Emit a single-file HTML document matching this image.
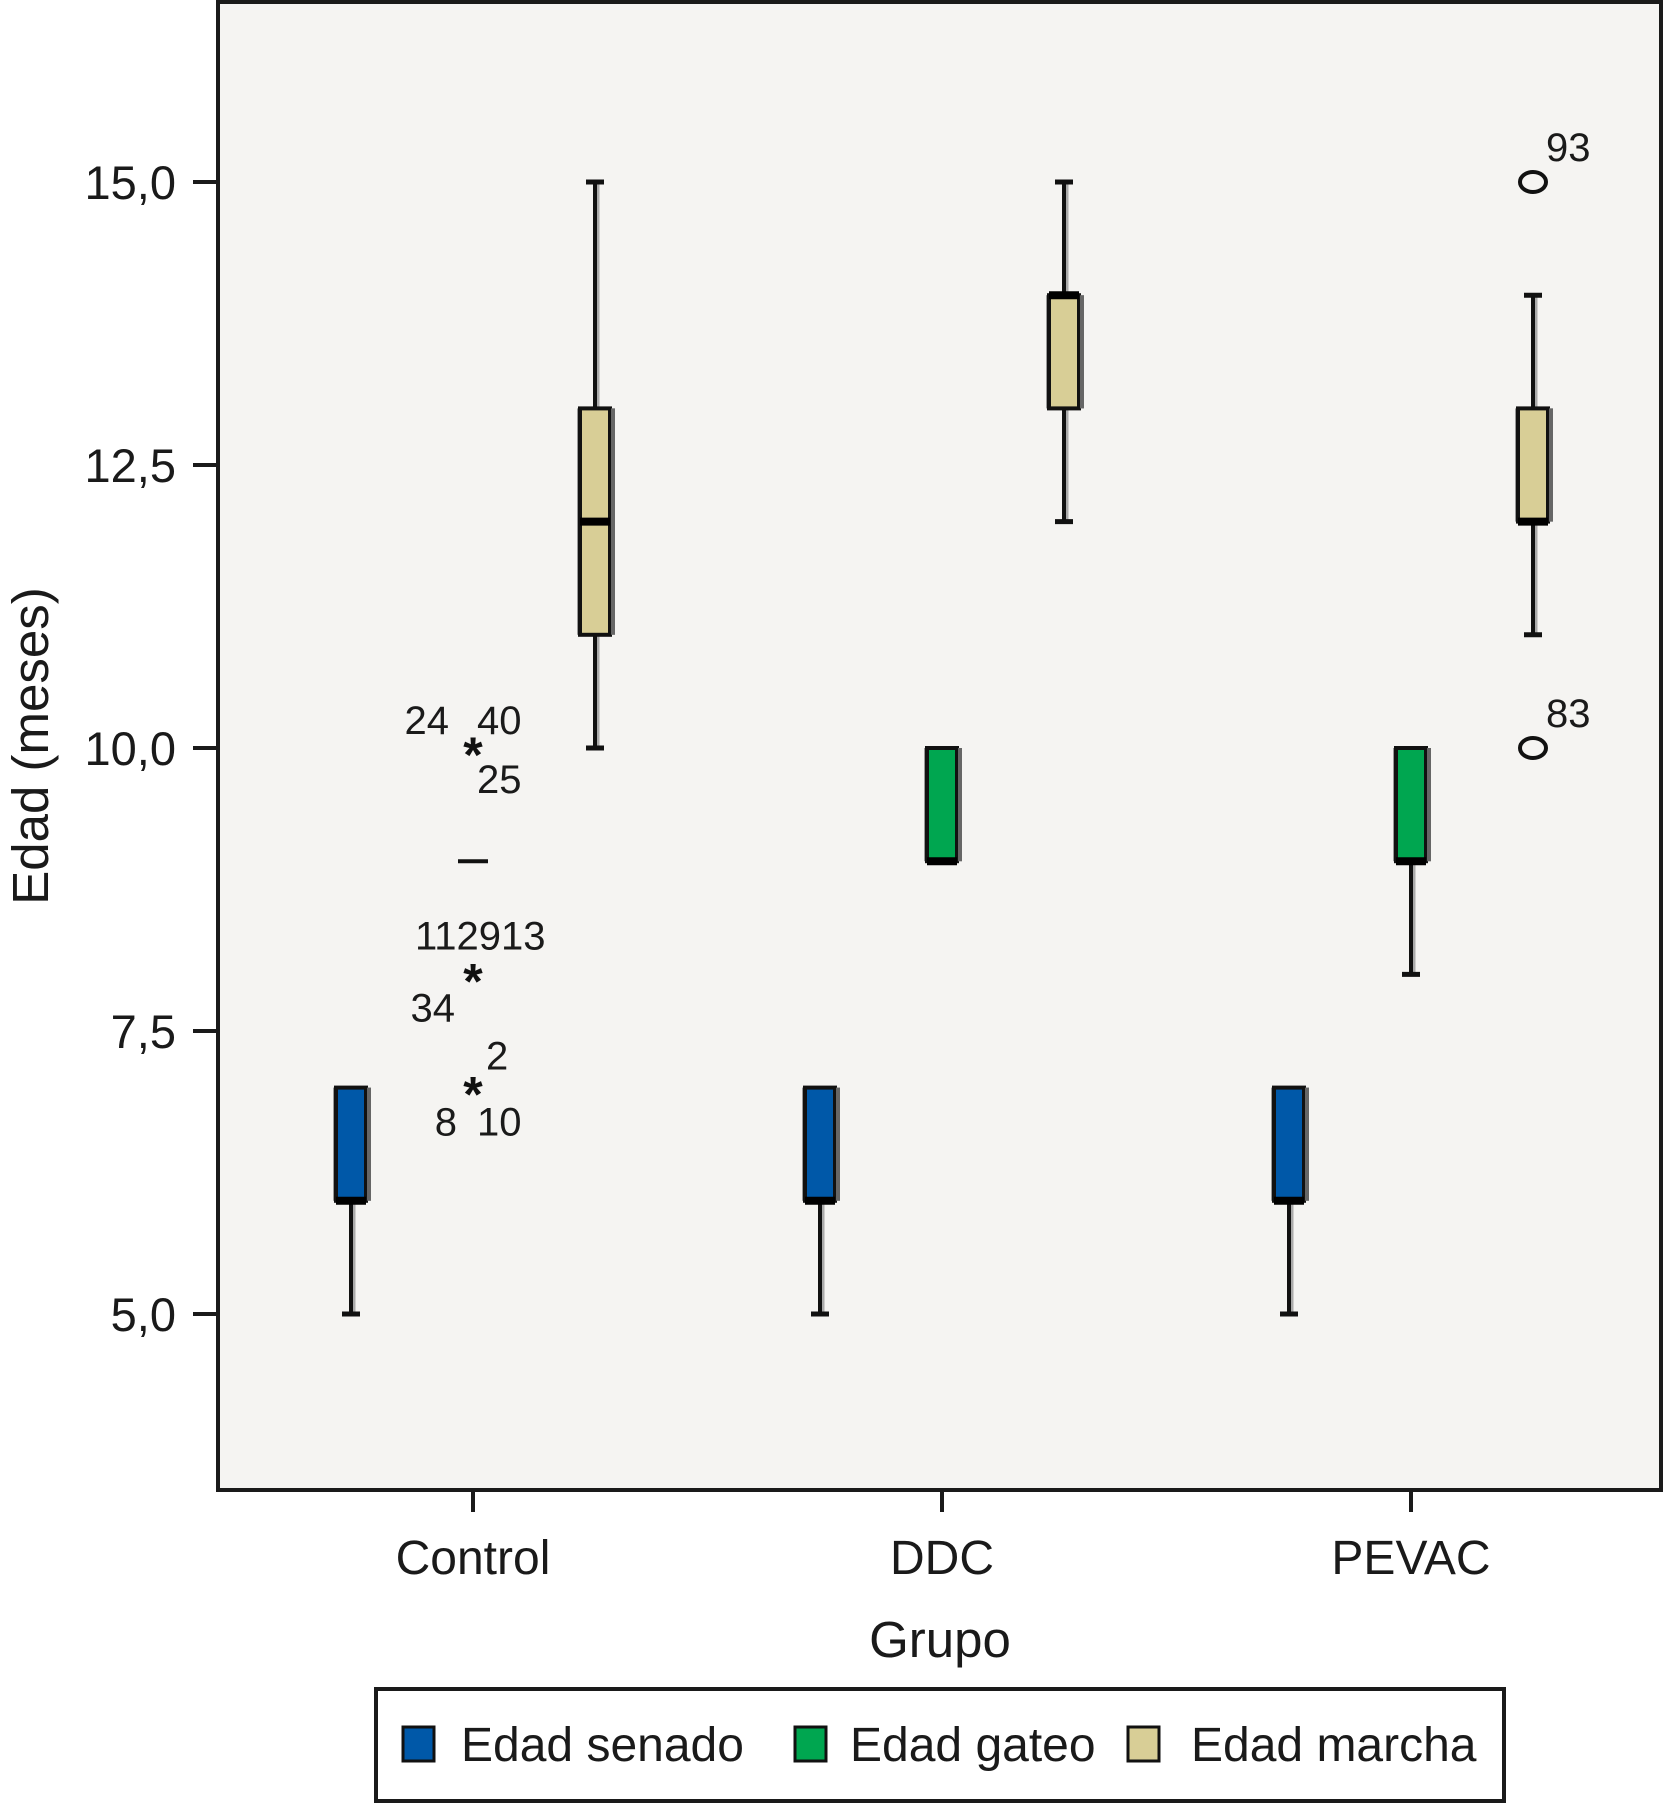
<!DOCTYPE html>
<html><head><meta charset="utf-8"><style>
html,body{margin:0;padding:0;background:#fff;}
svg{display:block;font-family:"Liberation Sans",Arial,sans-serif;}
</style></head><body>
<svg id="chart" width="1664" height="1805" viewBox="0 0 1664 1805" xmlns="http://www.w3.org/2000/svg">
<rect x="218" y="2" width="1443" height="1488" fill="#f5f4f2" stroke="#1a1a1a" stroke-width="4"/>
<g id="axes"></g>
<g id="marks"></g>
<text x="940" y="1657" font-size="51" text-anchor="middle" fill="#1a1a1a">Grupo</text>
<text transform="translate(48,746) rotate(-90)" font-size="51" text-anchor="middle" fill="#1a1a1a">Edad (meses)</text>
<g>
<rect x="376" y="1689" width="1128" height="112" fill="#fff" stroke="#1a1a1a" stroke-width="4"/>
<rect x="403" y="1727" width="31" height="34" fill="#0058a8" stroke="#111" stroke-width="3"/>
<text x="461" y="1761" font-size="48" fill="#1a1a1a">Edad senado</text>
<rect x="795" y="1727" width="31" height="34" fill="#00a650" stroke="#111" stroke-width="3"/>
<text x="850" y="1761" font-size="48" fill="#1a1a1a">Edad gateo</text>
<rect x="1128" y="1727" width="31" height="34" fill="#d8ce96" stroke="#111" stroke-width="3"/>
<text x="1191" y="1761" font-size="48" fill="#1a1a1a">Edad marcha</text>
</g>
</svg>
<script>
const groups = ["Control","DDC","PEVAC"];
const series = ["senado","gateo","marcha"];
const colors = ["#0058a8","#00a650","#d8ce96"];
const yTicks = [5.0,7.5,10.0,12.5,15.0];
const yTickLabels = ["5,0","7,5","10,0","12,5","15,0"];
// [group] = [whiskerLow, q1, median, q3, whiskerHigh]
const senadoStats = [[5,6,6,7,7],[5,6,6,7,7],[5,6,6,7,7]];
const gateoStats  = [[9,9,9,9,9],[9,9,9,10,10],[8,9,9,10,10]];
const marchaStats = [[10,11,12,13,15],[12,13,14,14,15],[11,12,12,13,14]];
const extremeGroup = [0,0,0];
const extremeSeries = [1,1,1];
const extremeValues = [10,8,7];
const outlierGroup = [2,2];
const outlierSeries = [2,2];
const outlierValues = [15,10];
const outlierLabels = ["93","83"];

const NS="http://www.w3.org/2000/svg";
const yScale = v => 182 + (15 - v) * 113.2;
const xScale = g => 473 + g * 469;
const seriesOffset = s => (s - 1) * 122;
function mk(tag, attrs, parent){const e=document.createElementNS(NS,tag);for(const k in attrs)e.setAttribute(k,attrs[k]);parent.appendChild(e);return e;}
const axes=document.getElementById('axes'), marks=document.getElementById('marks');

yTicks.forEach((v,i)=>{
  const t=mk('line',{x1:193,x2:218,y1:yScale(v),y2:yScale(v),stroke:'#1a1a1a','stroke-width':4},axes);
  
  
  const l=mk('text',{x:176,y:yScale(v)+17,'font-size':47,'text-anchor':'end',fill:'#1a1a1a'},axes);
  l.textContent=yTickLabels[i];
  
  
});
groups.forEach((g,i)=>{
  const t=mk('line',{x1:xScale(i),x2:xScale(i),y1:1490,y2:1512,stroke:'#1a1a1a','stroke-width':4},axes);
  
  
  const l=mk('text',{x:xScale(i),y:1574,'font-size':48,'text-anchor':'middle',fill:'#1a1a1a'},axes);
  l.textContent=g;
  
  
});

const allStats=[senadoStats,gateoStats,marchaStats];
groups.forEach((g,gi)=>{
  series.forEach((s,si)=>{
    const st=allStats[si][gi];
    const cx=xScale(gi)+seriesOffset(si);
    const grp=mk('g',{},marks);
    
    
    const w=30;
    if(st[0]<st[1]){mk('line',{x1:cx+3,x2:cx+3,y1:yScale(st[0]),y2:yScale(st[1]),stroke:'#aaa','stroke-width':3},grp);
      mk('line',{x1:cx,x2:cx,y1:yScale(st[0]),y2:yScale(st[1]),stroke:'#111','stroke-width':4},grp);
      mk('line',{x1:cx-9,x2:cx+9,y1:yScale(st[0]),y2:yScale(st[0]),stroke:'#111','stroke-width':5},grp);}
    if(st[4]>st[3]){mk('line',{x1:cx+3,x2:cx+3,y1:yScale(st[4]),y2:yScale(st[3]),stroke:'#aaa','stroke-width':3},grp);
      mk('line',{x1:cx,x2:cx,y1:yScale(st[4]),y2:yScale(st[3]),stroke:'#111','stroke-width':4},grp);
      mk('line',{x1:cx-9,x2:cx+9,y1:yScale(st[4]),y2:yScale(st[4]),stroke:'#111','stroke-width':5},grp);}
    if(st[3]>st[1]){
      mk('rect',{x:cx-w/2-3,y:yScale(st[3]),width:w+8,height:yScale(st[1])-yScale(st[3]),fill:'#999'},grp);
      mk('rect',{x:cx-w/2,y:yScale(st[3]),width:w,height:yScale(st[1])-yScale(st[3]),fill:colors[si],stroke:'#111','stroke-width':4},grp);
      mk('line',{x1:cx+w/2+3,x2:cx+w/2+3,y1:yScale(st[3]),y2:yScale(st[1]),stroke:'#666','stroke-width':4},grp);
      mk('line',{x1:cx-w/2,x2:cx+w/2,y1:yScale(st[2]),y2:yScale(st[2]),stroke:'#000','stroke-width':8},grp);
    } else {
      mk('line',{x1:cx-15,x2:cx+15,y1:yScale(st[2]),y2:yScale(st[2]),stroke:'#111','stroke-width':4},grp);
    }
  });
});

const extremeLabelSets=[
  [["24",-24,-28,'end'],["40",4,-28,'start'],["25",4,31,'start']],
  [["112913",-58,-39,'start'],["34",-18,33,'end']],
  [["2",13,-32,'start'],["8",-16,34,'end'],["10",4,34,'start']]
];
extremeValues.forEach((v,i)=>{
  const cx=xScale(extremeGroup[i])+seriesOffset(extremeSeries[i]);
  const cy=yScale(v);
  const a=mk('text',{x:cx,y:cy+24,'font-size':50,'font-weight':'bold','text-anchor':'middle',fill:'#111'},marks);
  a.textContent='*';
  
  
  extremeLabelSets[i].forEach(lb=>{
    const t=mk('text',{x:cx+lb[1],y:cy+lb[2]+14,'font-size':40,'text-anchor':lb[3],fill:'#1a1a1a'},marks);
    t.textContent=lb[0];
    
    
  });
});
outlierValues.forEach((v,i)=>{
  const cx=xScale(outlierGroup[i])+seriesOffset(outlierSeries[i]);
  const cy=yScale(v);
  const c=mk('ellipse',{cx:cx,cy:cy,rx:13,ry:10,fill:'none',stroke:'#111','stroke-width':4},marks);
  
  
  const t=mk('text',{x:cx+13,y:cy-21,'font-size':40,fill:'#1a1a1a'},marks);
  t.textContent=outlierLabels[i];
  
  
});
</script>
</body></html>
